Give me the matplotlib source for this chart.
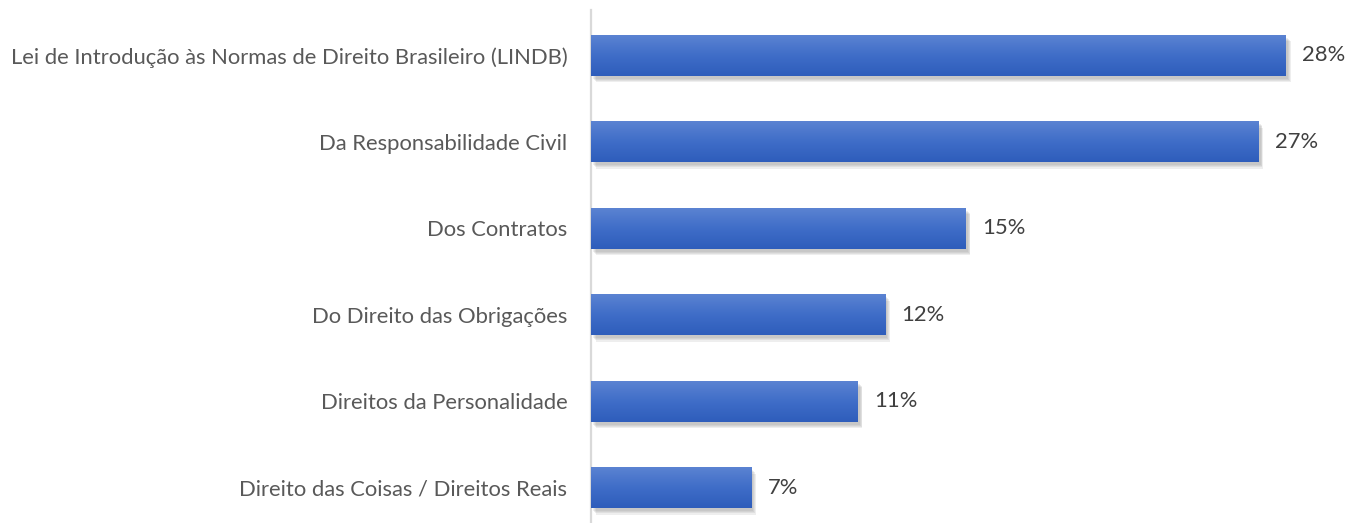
import numpy as np
import matplotlib.pyplot as plt
import matplotlib.patheffects as pe
from matplotlib.colors import LinearSegmentedColormap

plt.rcParams['font.family'] = ['Lato', 'DejaVu Sans']

# data (top to bottom)
categories = [
    "Lei de Introdução às Normas de Direito Brasileiro (LINDB)",
    "Da Responsabilidade Civil",
    "Dos Contratos",
    "Do Direito das Obrigações",
    "Direitos da Personalidade",
    "Direito das Coisas / Direitos Reais",
]
values = [28.0, 26.9, 15.1, 11.85, 10.75, 6.45]
value_labels = ["28%", "27%", "15%", "12%", "11%", "7%"]

fig = plt.figure(figsize=(13.49, 5.23), dpi=100)
ax = fig.add_axes([591 / 1349, 0.0, 758 / 1349, 1 - 10 / 523])

y = np.arange(len(categories))
bars = ax.barh(y, values, height=0.474, color="#4472C4", zorder=2)

# vertical gradient on each bar + soft shadow
grad_cmap = LinearSegmentedColormap.from_list("g", ["#5B83D2", "#3F6DC8", "#2E5DBB"])
grad = np.linspace(0, 1, 256).reshape(-1, 1)
shadow = [pe.SimplePatchShadow(offset=(1.5 + k * 0.6, -2 - k * 0.8), shadow_rgbFace="#808080", alpha=0.13)
          for k in range(4)]
for b in bars:
    b.set_path_effects(shadow + [pe.Normal()])
    x0, y0 = b.get_x(), b.get_y()
    w, h = b.get_width(), b.get_height()
    im = ax.imshow(grad, cmap=grad_cmap, aspect="auto", zorder=3,
                   extent=[x0, x0 + w, y0 + h, y0], interpolation="bicubic")
    im.set_clip_path(b)

for yi, v, lab in zip(y, values, value_labels):
    ax.text(v + 0.66, yi, lab, va="center", ha="left", fontsize=15.8, color="#404040")

ax.set_xlim(0, 758 / 24.82)
ax.set_ylim(5.405, -0.526)

ax.set_yticks(y)
ax.set_yticklabels(categories, fontsize=15.8, color="#595959")
ax.tick_params(axis="y", length=0, pad=17)
ax.set_xticks([])

for s in ["top", "right", "bottom"]:
    ax.spines[s].set_visible(False)
ax.spines["left"].set_color("#D9D9D9")
ax.spines["left"].set_linewidth(1.6)

fig.savefig("out.png", dpi=100)
